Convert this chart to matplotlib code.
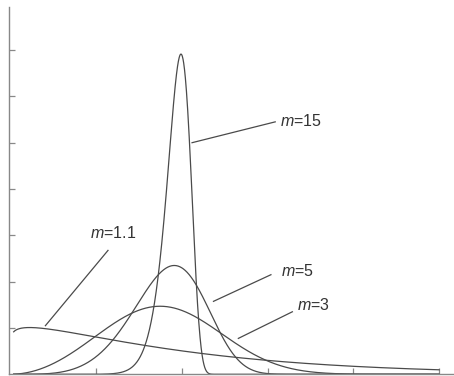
import numpy as np
import matplotlib
matplotlib.use("Agg")
import matplotlib.pyplot as plt

# Weibull shape parameters (labels in the chart) and common scale
shapes = [1.1, 3, 5, 15]
scale = 2.0
labels = ["1.1", "3", "5", "15"]
x_start, x_end = 0.04, 5.0

# label text anchors (data coords) and leader line endpoints
label_pos = {"15": (3.15, 2.19), "5": (3.16, 0.89), "3": (3.34, 0.60), "1.1": (0.93, 1.22)}
leader_lines = {
    "15": ((3.09, 2.18), (2.12, 2.00)),
    "5": ((3.04, 0.86), (2.37, 0.63)),
    "3": ((3.29, 0.54), (2.66, 0.31)),
    "1.1": ((1.14, 1.07), (0.41, 0.42)),
}

plt.rcParams['font.family'] = ['Liberation Sans', 'DejaVu Sans']
plt.rcParams['mathtext.fontset'] = 'custom'
plt.rcParams['mathtext.it'] = 'Liberation Sans:italic'
plt.rcParams['mathtext.rm'] = 'Liberation Sans'

fig = plt.figure(figsize=(4.54, 3.76), dpi=100)
W, H = 454.0, 376.0
left_px, right_px, top_px, bot_px = 8.5, 454.0, 7.0, 373.5
ax = fig.add_axes([left_px / W, 1 - bot_px / H, (right_px - left_px) / W, (bot_px - top_px) / H])

# pixel->data mapping from tick positions
xpx_per = 85.75
x0px = 10.25
ypx_per = 115.8
y0px = 374.3
ax.set_xlim((left_px - x0px) / xpx_per, (right_px - x0px) / xpx_per)
ax.set_ylim((y0px - bot_px) / ypx_per, (y0px - top_px) / ypx_per)

x = np.linspace(x_start, x_end, 2000)
for m in shapes:
    pdf = (m / scale) * (x / scale) ** (m - 1) * np.exp(-(x / scale) ** m)
    ax.plot(x, pdf, color='#4a4a4a', lw=0.9)

for lab in labels:
    (xa, ya), (xb, yb) = leader_lines[lab]
    ax.plot([xa, xb], [ya, yb], color='#4a4a4a', lw=0.9)
    tx, ty = label_pos[lab]
    ax.text(tx, ty, r"$\mathit{m}$" + "=" + lab, fontsize=11.5, color='#333333',
            va='center', ha='left')

for s in ['top', 'right']:
    ax.spines[s].set_visible(False)
for s in ['left', 'bottom']:
    ax.spines[s].set_color('#888888')
    ax.spines[s].set_linewidth(1.0)

ax.set_xticks([1, 2, 3, 4, 5])
ax.set_yticks([0.4, 0.8, 1.2, 1.6, 2.0, 2.4, 2.8])
ax.tick_params(direction='in', length=4, width=0.9, color='#888888',
               labelbottom=False, labelleft=False)
ax.patch.set_alpha(0)

fig.savefig("out.png", dpi=100)
